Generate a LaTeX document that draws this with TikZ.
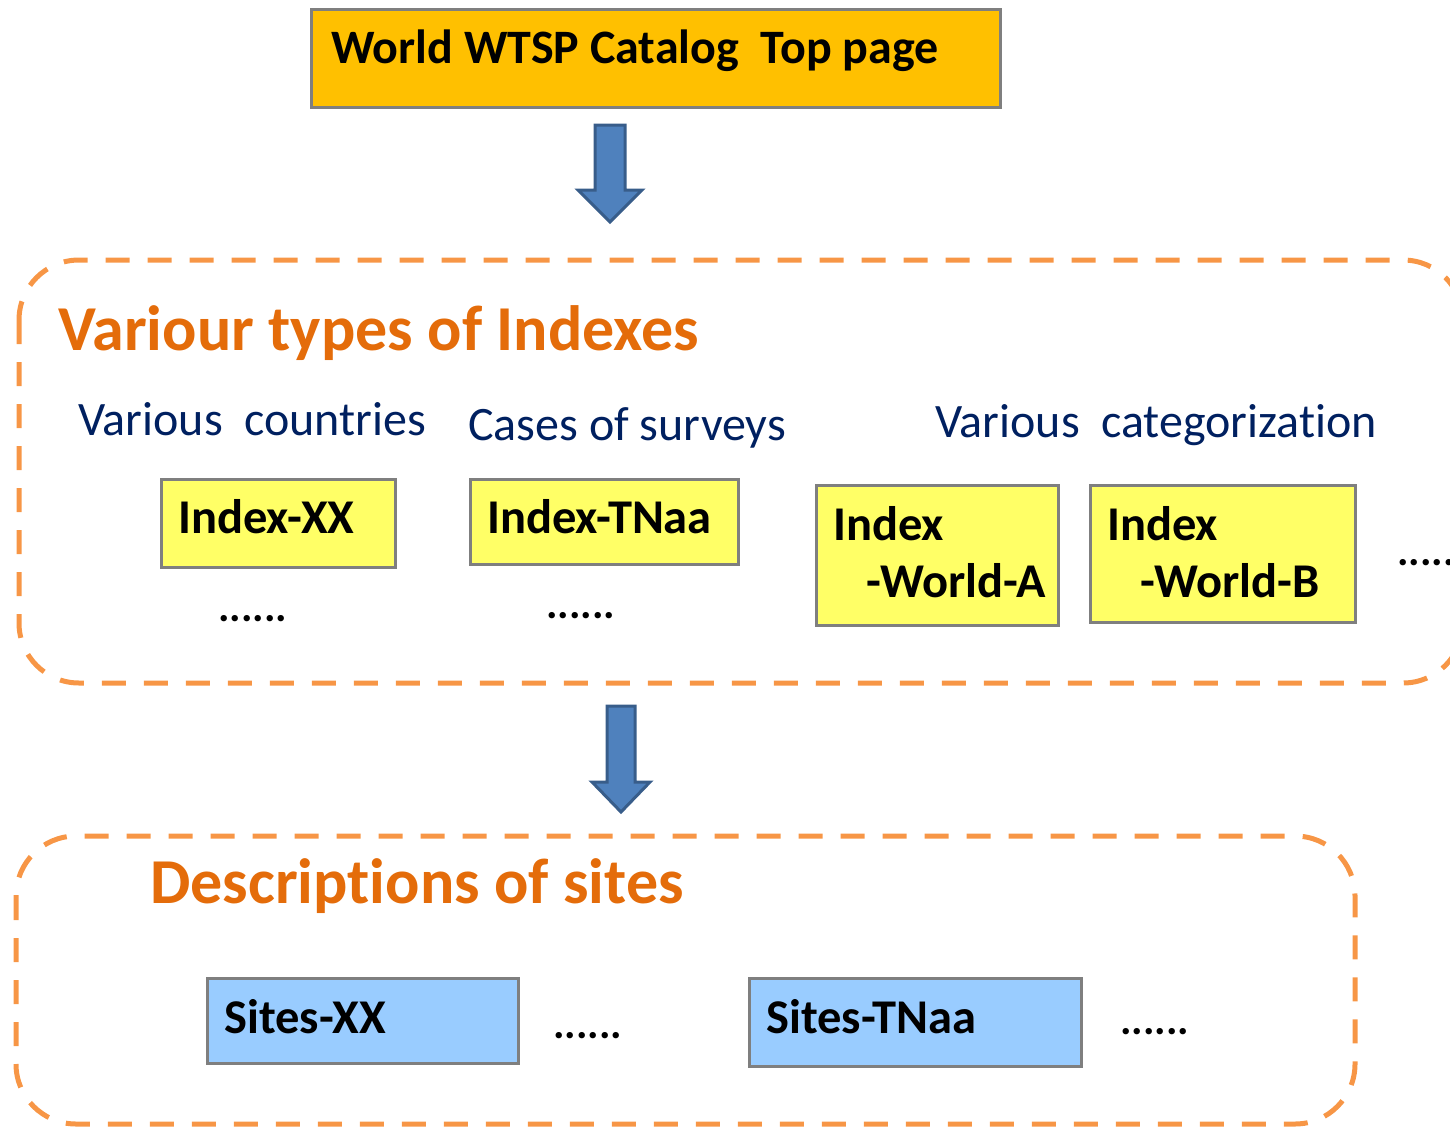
\documentclass[tikz,border=0pt]{standalone}
\usepackage{fontspec}
\setmainfont{Carlito}[Ligatures={TeX,NoCommon}]
\usetikzlibrary{positioning, calc}
\definecolor{TopFill}{RGB}{255, 192, 0}
\definecolor{IdxFill}{RGB}{255, 255, 102}
\definecolor{SiteFill}{RGB}{153, 204, 255}
\definecolor{BoxLine}{RGB}{127, 127, 127}
\definecolor{DashLine}{RGB}{247, 150, 70}
\definecolor{Heading}{RGB}{228, 108, 10}
\definecolor{SubText}{RGB}{0, 32, 96}
\definecolor{ArrowFill}{RGB}{79, 129, 189}
\definecolor{ArrowLine}{RGB}{56, 93, 138}

\tikzset{
  catbox/.style={draw=BoxLine, line width=2.5pt, anchor=north west, inner sep=0pt},
  boxlabel/.style={anchor=base west, inner sep=0pt, font=\fontsize{48.5}{58}\selectfont\bfseries},
  heading/.style={anchor=base west, inner sep=0pt, text=Heading, font=\fontsize{64}{76}\selectfont\bfseries},
  subhead/.style={anchor=base west, inner sep=0pt, text=SubText, font=\fontsize{48}{57}\selectfont},
  moredots/.style={anchor=base west, inner sep=0pt, font=\fontsize{43}{52}\selectfont\bfseries},
  groupbox/.style={draw=DashLine, line width=5pt, dash pattern=on 24pt off 18pt, rounded corners=60pt},
  blockarrow/.style={fill=ArrowFill, draw=ArrowLine, line width=3pt, line join=miter}
}

\begin{document}
\begin{tikzpicture}[x=1pt, y=-1pt]
  \useasboundingbox (0,0) rectangle (1450,1127);
  \clip (0,0) rectangle (1450,1127);

  % top page
  \node[catbox, fill=TopFill, minimum width=689pt, minimum height=98pt] (top) at (310,8) {};
  \node[boxlabel, font=\fontsize{48}{58}\selectfont\bfseries] (topT) at (331,63) {World WTSP Catalog\ \ Top page};

  % arrow to indexes
  \coordinate (a1) at (610,125);
  \draw[blockarrow] (a1) ++(-15,0) -- ++(30,0) -- ++(0,65) -- ++(17,0) -- ++(-32,32)
    -- ++(-32,-32) -- ++(17,0) -- cycle;

  % indexes
  \draw[groupbox] (19,260) rectangle (1463,683);
  \node[heading] (idxH) at (58,350) {Variour types of Indexes};
  \node[subhead] (cntT) at (78,435) {Various\ \ countries};
  \node[subhead] (srvT) at (468,440) {Cases of surveys};
  \node[subhead] (catT) at (935,437) {Various\ \ categorization};

  \node[catbox, fill=IdxFill, minimum width=234pt, minimum height=88pt] (ixx) at (160,478) {};
  \node[boxlabel] (ixxT) at (178,533) {Index-XX};
  \node[catbox, fill=IdxFill, minimum width=268pt, minimum height=85pt] (itn) at (469,478) {};
  \node[boxlabel] (itnT) at (487,533) {Index-TNaa};
  \node[catbox, fill=IdxFill, minimum width=242pt, minimum height=140pt] (iwa) at (815,484) {};
  \node[boxlabel] (iwaT) at (833,540) {Index};
  \node[boxlabel] (iwaS) at (866,597) {-World-A};
  \node[catbox, fill=IdxFill, minimum width=265pt, minimum height=137pt] (iwb) at (1089,484) {};
  \node[boxlabel] (iwbT) at (1107,540) {Index};
  \node[boxlabel] (iwbS) at (1140,597) {-World-B};

  \node[moredots] (d1) at (218,621) {......};
  \node[moredots] (d2) at (546,618) {......};
  \node[moredots] (d3) at (1397,565) {......};

  % arrow to sites
  \coordinate (a2) at (621,706);
  \draw[blockarrow] (a2) ++(-14,0) -- ++(28,0) -- ++(0,76) -- ++(15,0) -- ++(-29,30)
    -- ++(-29,-30) -- ++(15,0) -- cycle;

  % sites
  \draw[groupbox] (16,836) rectangle (1355,1124);
  \node[heading] (siteH) at (150,903) {Descriptions of sites};
  \node[catbox, fill=SiteFill, minimum width=311pt, minimum height=85pt] (sxx) at (206,977) {};
  \node[boxlabel] (sxxT) at (224,1033) {Sites-XX};
  \node[catbox, fill=SiteFill, minimum width=332pt, minimum height=88pt] (stn) at (748,977) {};
  \node[boxlabel] (stnT) at (766,1033) {Sites-TNaa};
  \node[moredots] (d4) at (553,1038) {......};
  \node[moredots] (d5) at (1120,1034) {......};
\end{tikzpicture}
\end{document}
